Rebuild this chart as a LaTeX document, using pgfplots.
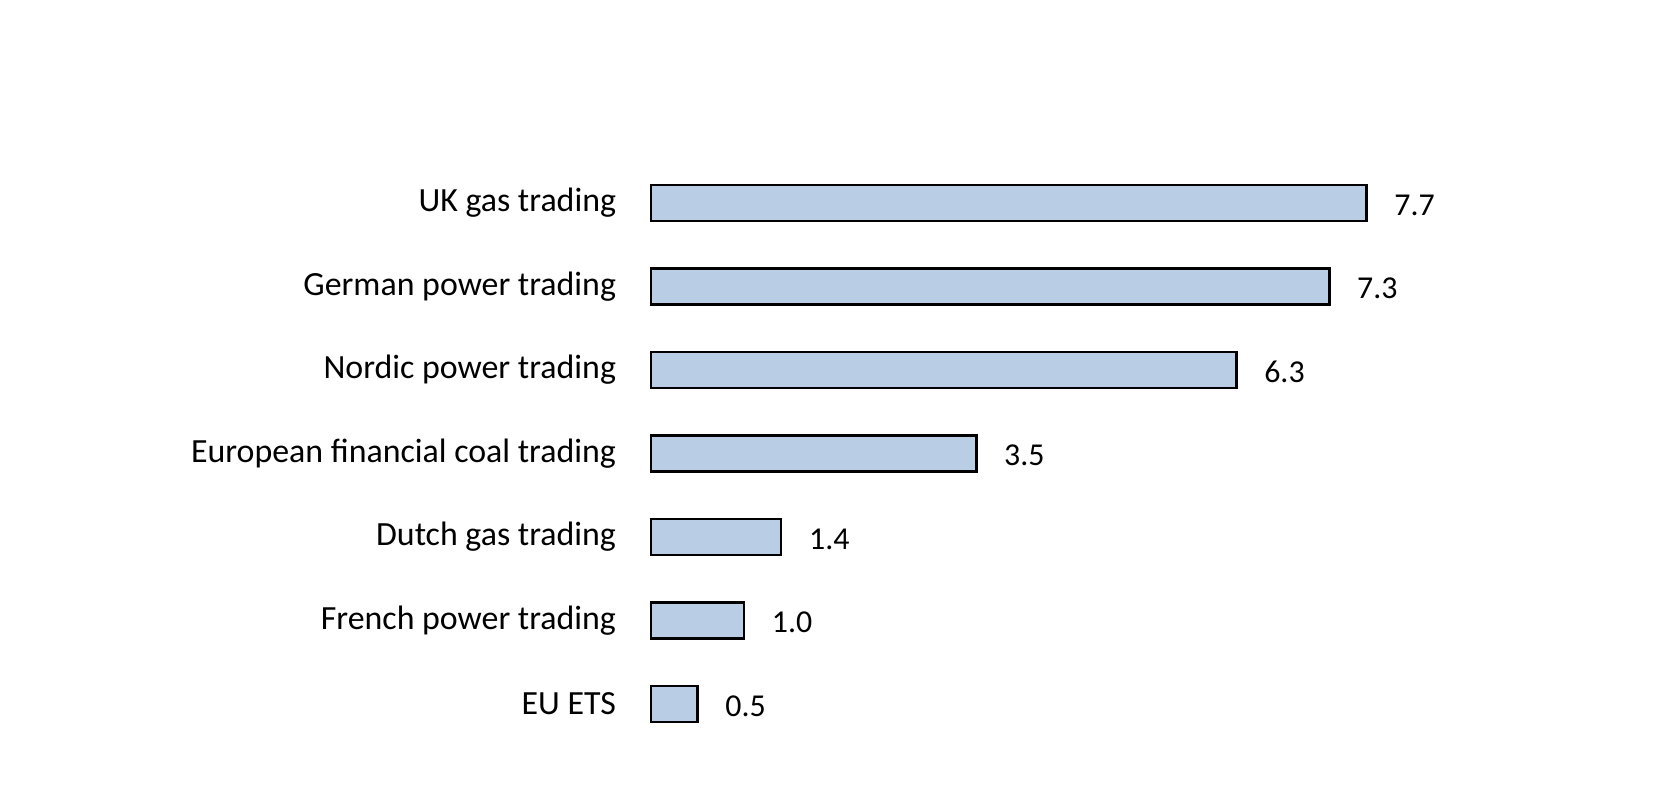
\documentclass[border=0pt]{standalone}
\usepackage{fontspec}
\setmainfont{Carlito}
\usepackage{pgfplots}
\pgfplotsset{compat=1.18}
\definecolor{barfill}{HTML}{B9CDE5}
\begin{document}
\begin{tikzpicture}
\useasboundingbox (0,0) rectangle (834bp,403bp);
\begin{axis}[
  at={(325.5bp,30.1bp)}, anchor=south west,
  scale only axis,
  width=464.5bp, height=292.25bp,
  xmin=0, xmax=10,
  ymin=-0.5, ymax=6.5,
  xbar, bar width=18bp,
  axis line style={draw=none},
  xtick=\empty,
  ytick={0,1,2,3,4,5,6},
  yticklabels={EU ETS, French power trading, Dutch gas trading, European financial coal trading, Nordic power trading, German power trading, UK gas trading},
  major tick length=0pt,
  yticklabel style={font=\fontsize{17}{19}\selectfont, anchor=east, xshift=-14bp},
  /pgf/number format/assume math mode=true,
  nodes near coords={\pgfmathprintnumber[fixed,fixed zerofill,precision=1]{\pgfplotspointmeta}},
  nodes near coords align={horizontal},
  every node near coord/.append style={font=\fontsize{16}{18}\selectfont, xshift=10bp, yshift=-1bp},
  clip=false,
]
\addplot[fill=barfill, draw=black, line width=1.4bp] coordinates {
  (0.5,0) (1.0,1) (1.4,2) (3.5,3) (6.3,4) (7.3,5) (7.7,6)
};
\end{axis}
\end{tikzpicture}
\end{document}
